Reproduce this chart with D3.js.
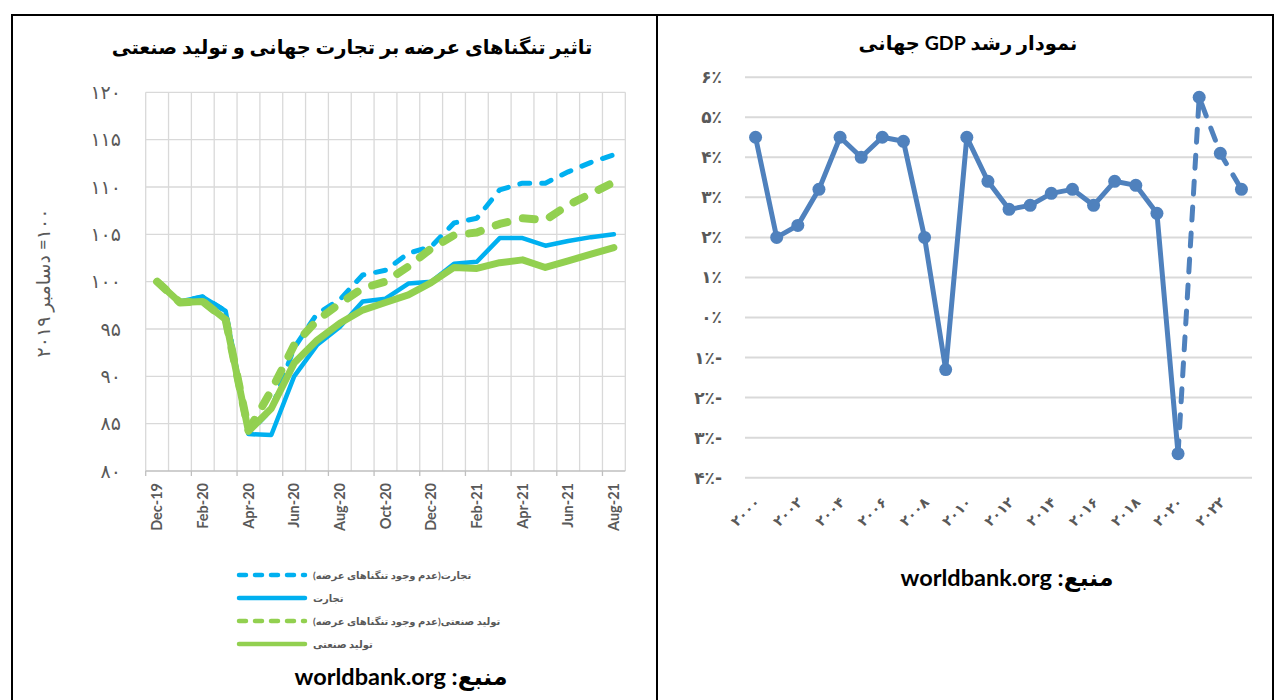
<!DOCTYPE html>
<html><head><meta charset="utf-8">
<script src="https://cdn.jsdelivr.net/npm/d3@7"></script>
<style>
body{margin:0;background:#fff}
svg{display:block}
text{font-family:Lato,'DejaVu Sans',sans-serif}
</style>
</head><body>
<svg id="c" width="1275" height="700"></svg>
<script>
// ---------- data: left chart ----------
const months = ['Dec-19','Jan-20','Feb-20','Mar-20','Apr-20','May-20','Jun-20','Jul-20','Aug-20','Sep-20','Oct-20','Nov-20','Dec-20','Jan-21','Feb-21','Mar-21','Apr-21','May-21','Jun-21','Jul-21','Aug-21'];
const tradeNoConstraint = [100,97.9,98.4,96.9,84.0,86.5,93.0,96.6,98.1,100.7,101.2,103.0,103.7,106.2,106.7,109.7,110.4,110.4,111.6,112.6,113.4];
const trade = [100,97.9,98.4,96.9,83.9,83.8,90.0,93.3,95.2,97.9,98.2,99.8,100.0,101.9,102.1,104.6,104.6,103.8,104.3,104.7,105.0];
const indNoConstraint = [100,97.8,97.9,96.0,84.3,88.5,93.3,95.9,97.7,99.3,100.0,101.6,103.5,104.9,105.2,106.1,106.7,106.5,108.1,109.3,110.5];
const ind = [100,97.8,97.9,96.0,84.2,86.6,91.4,93.8,95.6,97.0,97.8,98.6,99.9,101.5,101.4,102.0,102.3,101.5,102.2,102.9,103.6];
const leftYTicks = [80,85,90,95,100,105,110,115,120];
const leftXLabels = ['Dec-19','Feb-20','Apr-20','Jun-20','Aug-20','Oct-20','Dec-20','Feb-21','Apr-21','Jun-21','Aug-21'];
const seriesNames = ['تجارت(عدم وجود تنگناهای عرضه)','تجارت','تولید صنعتی(عدم وجود تنگناهای عرضه)','تولید صنعتی'];

// ---------- data: right chart ----------
const gdpYears = [2000,2001,2002,2003,2004,2005,2006,2007,2008,2009,2010,2011,2012,2013,2014,2015,2016,2017,2018,2019,2020,2021,2022,2023];
const gdpGrowth = [4.5,2.0,2.3,3.2,4.5,4.0,4.5,4.4,2.0,-1.3,4.5,3.4,2.7,2.8,3.1,3.2,2.8,3.4,3.3,2.6,-3.4,5.5,4.1,3.2];
const gdpDashedFrom = 2020;
const rightYTicks = [-4,-3,-2,-1,0,1,2,3,4,5,6];
const rightXLabels = [2000,2002,2004,2006,2008,2010,2012,2014,2016,2018,2020,2022];

const fa = s => String(s).replace(/\d/g, d => '۰۱۲۳۴۵۶۷۸۹'[d]);
const pct = v => (v < 0 ? '-' : '') + fa(Math.abs(v)) + '٪';

const svg = d3.select('#c');
const GRID = '#d9d9d9', AX = '#595959';

// frame
svg.append('rect').attr('x',12).attr('y',15).attr('width',1261).attr('height',700)
  .attr('fill','none').attr('stroke','#000').attr('stroke-width',2);
svg.append('line').attr('x1',657).attr('x2',657).attr('y1',15).attr('y2',700)
  .attr('stroke','#000').attr('stroke-width',2);

// ================= LEFT CHART =================
const xL = d3.scaleBand().domain(months).range([145.7,625.3]).padding(0);
const cx = m => xL(m) + xL.bandwidth()/2;
const yL = d3.scaleLinear().domain([80,120]).range([471,92.3]);
const gL = svg.append('g');

const bounds = months.map(m => xL(m)).concat([xL.range()[1]]);
gL.selectAll('.vg').data(bounds).join('line')
  .attr('x1',d=>d).attr('x2',d=>d).attr('y1',yL(120)).attr('y2',yL(80))
  .attr('stroke',GRID).attr('stroke-width',1.3);
gL.selectAll('.hg').data(leftYTicks).join('line')
  .attr('x1',xL.range()[0]).attr('x2',xL.range()[1]).attr('y1',d=>yL(d)).attr('y2',d=>yL(d))
  .attr('stroke',d=>d===80?'#bfbfbf':GRID).attr('stroke-width',1.3);
gL.selectAll('.tk').data(bounds.filter((d,i)=>i%2===0)).join('line')
  .attr('x1',d=>d).attr('x2',d=>d).attr('y1',yL(80)).attr('y2',yL(80)+5)
  .attr('stroke','#bfbfbf').attr('stroke-width',1.3);

const yAxL = gL.append('g').attr('transform',`translate(121,0)`)
  .call(d3.axisLeft(yL).tickValues(leftYTicks).tickFormat(fa).tickSize(0).tickPadding(0));
yAxL.select('.domain').remove();
yAxL.selectAll('text').attr('fill',AX).attr('font-size',19).style('font-family',"'DejaVu Sans',sans-serif");

const xAxL = gL.append('g').attr('transform',`translate(0,${yL(80)})`)
  .call(d3.axisBottom(xL).tickValues(leftXLabels).tickSize(0).tickPadding(0));
xAxL.select('.domain').remove();
xAxL.selectAll('text').attr('fill',AX).attr('font-size',14.5).attr('font-weight','bold')
  .attr('text-anchor','end').attr('transform','translate(0,12) rotate(-90)').attr('x',0).attr('y',0).attr('dy','0.35em');

gL.append('text').attr('transform','translate(50,283) rotate(-90)')
  .attr('text-anchor','middle').attr('fill',AX).attr('font-size',19)
  .style('direction','rtl').text('۱۰۰= دسامبر ۲۰۱۹');

gL.append('text').attr('x',352).attr('y',54).attr('text-anchor','middle')
  .attr('font-size',19.5).attr('font-weight','bold').attr('fill','#000').style('direction','rtl')
  .text('تاثیر تنگناهای عرضه بر تجارت جهانی و تولید صنعتی');

const styles = [
  {data:tradeNoConstraint,color:'#00B0F0',w:5,dash:'10,12'},
  {data:trade,color:'#00B0F0',w:4.5,dash:null},
  {data:indNoConstraint,color:'#92D050',w:8,dash:'12,16'},
  {data:ind,color:'#92D050',w:7,dash:null}
];
const lineL = d3.line().x((d,i)=>cx(months[i])).y(d=>yL(d));
styles.forEach(s=>{
  gL.append('path').datum(s.data).attr('d',lineL).attr('fill','none')
    .attr('stroke',s.color).attr('stroke-width',s.w).attr('stroke-linejoin','round')
    .attr('stroke-linecap','round').attr('stroke-dasharray',s.dash);
});

const legY = [575,598,621,644];
styles.forEach((s,i)=>{
  gL.append('line').attr('x1',239).attr('x2',305).attr('y1',legY[i]).attr('y2',legY[i])
    .attr('stroke',s.color).attr('stroke-width',4.5).attr('stroke-linecap','round')
    .attr('stroke-dasharray',s.dash? '7,9': null);
  gL.append('text').attr('x',313).attr('y',legY[i]).attr('dy','0.35em')
    .attr('text-anchor','end').style('direction','rtl')
    .attr('font-size',10).attr('font-weight','bold').attr('fill',AX).text(seriesNames[i]);
});

gL.append('text').attr('x',401).attr('y',685).attr('text-anchor','middle').style('direction','rtl')
  .attr('font-size',23.5).attr('font-weight','bold').attr('fill','#000').text('منبع: worldbank.org');

// ================= RIGHT CHART =================
const xR = d3.scaleBand().domain(gdpYears).range([745,1252]).padding(0);
const cxR = y => xR(y) + xR.bandwidth()/2;
const yR = d3.scaleLinear().domain([-4,6]).range([477.7,77.2]);
const gR = svg.append('g');

gR.selectAll('.hg').data(rightYTicks).join('line')
  .attr('x1',xR.range()[0]).attr('x2',xR.range()[1]).attr('y1',d=>yR(d)).attr('y2',d=>yR(d))
  .attr('stroke',GRID).attr('stroke-width',2);

const yAxR = gR.append('g').attr('transform','translate(722,0)')
  .call(d3.axisLeft(yR).tickValues(rightYTicks).tickFormat(pct).tickSize(0).tickPadding(0));
yAxR.select('.domain').remove();
yAxR.selectAll('text').attr('fill',AX).attr('font-size',17).attr('font-weight','bold')
  .style('font-family',"'DejaVu Sans',sans-serif").style('direction','rtl').attr('text-anchor','start');

const xAxR = gR.append('g').attr('transform',`translate(0,${yR(-4)})`)
  .call(d3.axisBottom(xR).tickValues(rightXLabels).tickFormat(fa).tickSize(0).tickPadding(0));
xAxR.select('.domain').remove();
xAxR.selectAll('text').attr('fill',AX).attr('font-size',14).attr('font-weight','bold')
  .style('font-family',"'DejaVu Sans',sans-serif")
  .attr('text-anchor','end').attr('x',0).attr('y',0).attr('dy','0.35em')
  .attr('transform','translate(2,22) rotate(-45)');

gR.append('text').attr('x',968).attr('y',50).attr('text-anchor','middle')
  .attr('font-size',19.5).attr('font-weight','bold').attr('fill','#000').style('direction','rtl')
  .text('نمودار رشد GDP جهانی');

const pts = gdpYears.map((y,i)=>({y, v:gdpGrowth[i]}));
const lineR = d3.line().x(d=>cxR(d.y)).y(d=>yR(d.v));
const BLUE = '#4F81BD';
gR.append('path').datum(pts.filter(d=>d.y<=gdpDashedFrom)).attr('d',lineR)
  .attr('fill','none').attr('stroke',BLUE).attr('stroke-width',5).attr('stroke-linejoin','round');
gR.append('path').datum(pts.filter(d=>d.y>=gdpDashedFrom)).attr('d',lineR)
  .attr('fill','none').attr('stroke',BLUE).attr('stroke-width',5).attr('stroke-linecap','round')
  .attr('stroke-dasharray','13,13');
gR.selectAll('.pt').data(pts).join('circle')
  .attr('cx',d=>cxR(d.y)).attr('cy',d=>yR(d.v)).attr('r',6.5).attr('fill',BLUE);

gR.append('text').attr('x',1007).attr('y',586).attr('text-anchor','middle').style('direction','rtl')
  .attr('font-size',23.5).attr('font-weight','bold').attr('fill','#000').text('منبع: worldbank.org');
</script>
</body></html>
